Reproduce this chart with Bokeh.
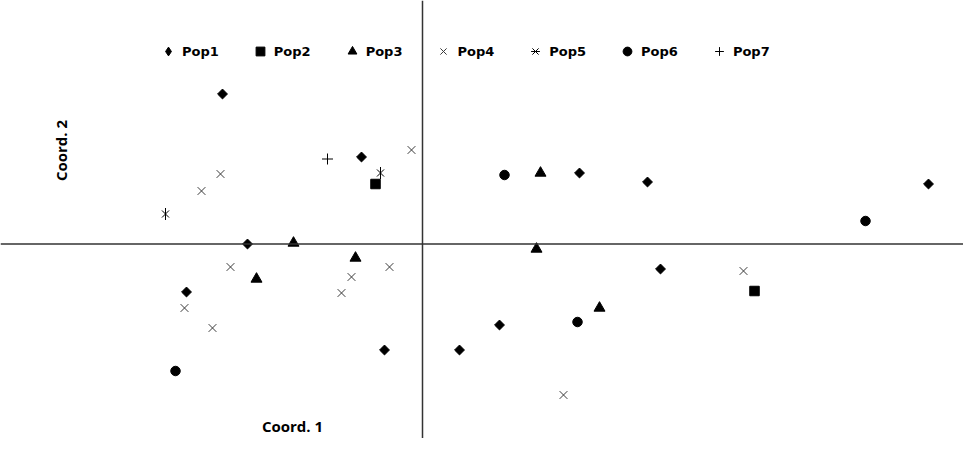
import numpy as np
from bokeh.plotting import figure
from bokeh.models import Span, Label, Legend, LegendItem, Range1d
from bokeh.embed import file_html
from bokeh.resources import INLINE

# Coordinates (Coord. 1, Coord. 2)
pop1_x = [-2.00, -0.61, -1.75, -2.36, -0.38, 0.37, 0.77, 1.57, 2.25, 2.38, 5.06]
pop1_y = [1.50, 0.87, 0.00, -0.48, -1.06, -1.06, -0.81, 0.71, 0.62, -0.25, 0.60]

pop2_x = [-0.47, 3.32]
pop2_y = [0.60, -0.47]

pop3_x = [-1.29, -0.67, -1.66, 1.18, 1.14, 1.77]
pop3_y = [0.01, -0.14, -0.35, 0.71, -0.05, -0.64]

pop4_x = [-0.11, -2.02, -2.21, -1.92, -0.33, -0.71, -0.81, -2.38, -2.10, 3.21, 1.41]
pop4_y = [0.94, 0.70, 0.53, -0.23, -0.23, -0.33, -0.49, -0.64, -0.84, -0.27, -1.51]

pop5_x = [-0.42, -2.57]
pop5_y = [0.71, 0.30]

pop6_x = [-2.47, 0.82, 1.55, 4.43]
pop6_y = [-1.27, 0.69, -0.78, 0.23]

pop7_x = [-0.95]
pop7_y = [0.85]

labels = ["Pop1", "Pop2", "Pop3", "Pop4", "Pop5", "Pop6", "Pop7"]

p = figure(width=963, height=438, output_backend="svg", toolbar_location=None,
           x_range=Range1d(-4.22, 5.41), y_range=Range1d(-1.945, 2.435),
           x_axis_location=None, y_axis_location=None, min_border=0)
p.grid.visible = False
p.outline_line_color = None

p.add_layout(Span(location=0, dimension="height", line_color="#333333", line_width=1.5))
p.add_layout(Span(location=0, dimension="width", line_color="#333333", line_width=1.5))

r1 = p.scatter(pop1_x, pop1_y, marker="square", angle=np.pi / 4, size=7, color="black")
r2 = p.scatter(pop2_x, pop2_y, marker="square", size=9.5, color="black")
r3 = p.scatter(pop3_x, pop3_y, marker="triangle", size=11, color="black")
r4 = p.scatter(pop4_x, pop4_y, marker="x", size=11, line_color="#3a3a3a", line_width=1)
r5a = p.scatter(pop5_x, pop5_y, marker="x", size=10, line_color="black", line_width=1)
r5b = p.scatter(pop5_x, pop5_y, marker="dash", angle=np.pi / 2, size=12, line_color="black", line_width=1)
r6 = p.scatter(pop6_x, pop6_y, marker="circle", size=9.5, color="black")
r7 = p.scatter(pop7_x, pop7_y, marker="cross", size=11, line_color="black", line_width=1)

# legend swatch for Pop1 (legend markers are drawn unrotated)
r1_key = p.scatter(pop1_x, pop1_y, marker="diamond", size=9, color="black", visible=False)

rends = [[r1_key], [r2], [r3], [r4], [r5a, r5b], [r6], [r7]]
legend = Legend(items=[LegendItem(label=l, renderers=r) for l, r in zip(labels, rends)],
                orientation="horizontal", location=(157, 376), padding=0, spacing=30,
                glyph_width=22, glyph_height=22, label_standoff=3, margin=0,
                label_text_font="DejaVu Sans", label_text_font_style="bold",
                label_text_font_size="13px", label_text_color="black",
                border_line_color=None, background_fill_alpha=0)
p.add_layout(legend)

p.add_layout(Label(x=60, y=288, x_units="screen", y_units="screen", text="Coord. 2",
                   angle=np.pi / 2, text_align="center", text_baseline="middle",
                   text_font="Open Sans", text_font_style="bold", text_font_size="15px",
                   text_color="black"))
p.add_layout(Label(x=292, y=13, x_units="screen", y_units="screen", text="Coord. 1",
                   text_align="center", text_baseline="middle",
                   text_font="Open Sans", text_font_style="bold", text_font_size="15px",
                   text_color="black"))

open("out.html", "w").write(file_html(p, INLINE))
